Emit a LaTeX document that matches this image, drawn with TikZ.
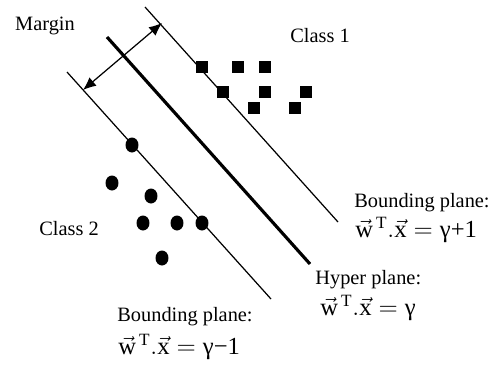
\documentclass[tikz,border=0pt]{standalone}
\usepackage{fontspec}
\setmainfont{Liberation Serif}
\usetikzlibrary{positioning,arrows.meta,shapes.geometric}

\newcommand{\planeeq}[1]{$\vec{\mathrm{w}}^{\,\mathrm{T}}.\vec{\mathrm{x}} = \mbox{γ#1}$}

\begin{document}
\begin{tikzpicture}[
    x=0.02cm, y=-0.02cm,
    lbl/.style={inner sep=0pt, font=\fontsize{11.6}{14}\selectfont},
    eqn/.style={inner sep=0pt, font=\fontsize{14}{16}\selectfont},
    plane/.style={line width=0.7pt},
    hyper/.style={line width=1.8pt},
    marrow/.style={{Latex[length=2.6mm,width=2.2mm]}-{Latex[length=2.6mm,width=2.2mm]}, line width=0.7pt},
    sqr/.style={fill, draw=none, minimum size=0.24cm, inner sep=0pt},
    dot/.style={ellipse, fill, draw=none, minimum width=0.26cm, minimum height=0.3cm, inner sep=0pt}
]
\useasboundingbox (0,0) rectangle (498,366);

% the three planes
\coordinate (up-a) at (145,7);
\coordinate (up-b) at (338,222);
\coordinate (hp-a) at (107,37);
\coordinate (hp-b) at (310,264);
\coordinate (lo-a) at (67,72);
\coordinate (lo-b) at (271,299);
\draw[plane] (up-a) -- (up-b);
\draw[hyper] (hp-a) -- (hp-b);
\draw[plane] (lo-a) -- (lo-b);

% margin
\coordinate (m-top) at (162,23);
\coordinate (m-bot) at (83,90);
\draw[marrow] (m-bot) -- (m-top);
\node[lbl] (margin) at (45,26) {Margin};

% class 1
\foreach \x/\y [count=\i] in {202/67, 238/67, 265/67, 223/92, 265/92, 306/92, 254/108, 295/108}
    \node[sqr] (sq\i) at (\x,\y) {};
\node[lbl] (class1) at (320,36) {Class 1};

% class 2
\foreach \x/\y [count=\i] in {132/145, 112/183, 151/196, 143/223, 177/223, 202/223, 162/258}
    \node[dot] (ci\i) at (\x,\y) {};
\node[lbl] (class2) at (69,229) {Class 2};

% labels
\node[lbl, anchor=west] (bp-up) at (354,203) {Bounding plane:};
\node[eqn, anchor=west] (eq-up) at (355,230) {\planeeq{+1}};
\node[lbl, anchor=west] (hp) at (315,280) {Hyper plane:};
\node[eqn, anchor=west] (eq-hp) at (320,308) {\planeeq{}};
\node[lbl, anchor=west] (bp-lo) at (117,317) {Bounding plane:};
\node[eqn, anchor=west] (eq-lo) at (118,347) {\planeeq{−1}};
\end{tikzpicture}
\end{document}
